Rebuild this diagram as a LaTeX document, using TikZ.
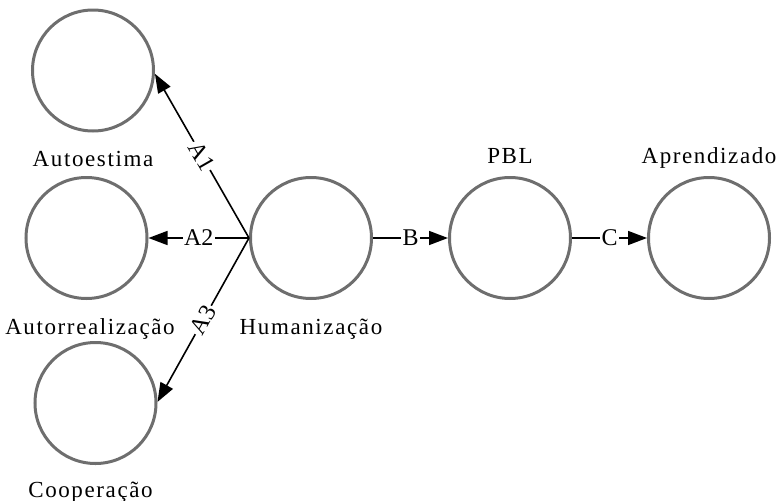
\documentclass[tikz,border=0pt]{standalone}
\usepackage{fontspec}
\setmainfont[LetterSpace=7]{Liberation Serif}
\newfontfamily\edgefont{Liberation Serif}
\usetikzlibrary{arrows.meta,positioning}
\definecolor{ringgray}{HTML}{6E6E6E}

\begin{document}
\begin{tikzpicture}[x=1pt, y=-1pt,
  stateNode/.style={circle, draw=ringgray, line width=3pt, minimum size=121pt, inner sep=0pt},
  nameLbl/.style  ={font=\fontsize{23}{26}\selectfont, inner sep=0pt, text height=16pt, text depth=5pt},
  edgeLbl/.style  ={font=\edgefont\fontsize{24}{27}\selectfont, fill=white, inner sep=1.5pt},
  flowArrow/.style={line width=1.6pt, -{Triangle[length=19pt,width=14pt]}},
]
\useasboundingbox (0,0) rectangle (777,501);

% circles: three on the left, then the chain to the right
\node[stateNode] (aut)  at (93,70.5) {};
\node[stateNode] (arl)  at (86.5,238) {};
\node[stateNode] (coop) at (95.5,403) {};
\node[stateNode] (hum)  at (311,238) {};
\node[stateNode] (pbl)  at (510,238) {};
\node[stateNode] (apr)  at (709,238) {};

% names under / over the circles
\node[nameLbl, below=18pt of aut] (autName) {Autoestima};
\node[nameLbl, below=18pt of arl, xshift=3.5pt] (arlName) {Autorrealização};
\node[nameLbl, below=16pt of coop, xshift=-5pt] (coopName) {Cooperação};
\node[nameLbl, below=18pt of hum] (humName) {Humanização};
\node[nameLbl, above=7pt of pbl] (pblName) {PBL};
\node[nameLbl, above=7pt of apr] (aprName) {Aprendizado};

% relations
\draw[flowArrow] (hum.west) -- node[edgeLbl, sloped] {A1} (aut.-3);
\draw[flowArrow] (hum.west) -- node[edgeLbl] {A2} (arl.east);
\draw[flowArrow] (hum.west) -- node[edgeLbl, sloped] {A3} (coop.1);
\draw[flowArrow] (hum.east) -- node[edgeLbl] {B} (pbl.west);
\draw[flowArrow] (pbl.east) -- node[edgeLbl] {C} (apr.west);
\end{tikzpicture}
\end{document}
